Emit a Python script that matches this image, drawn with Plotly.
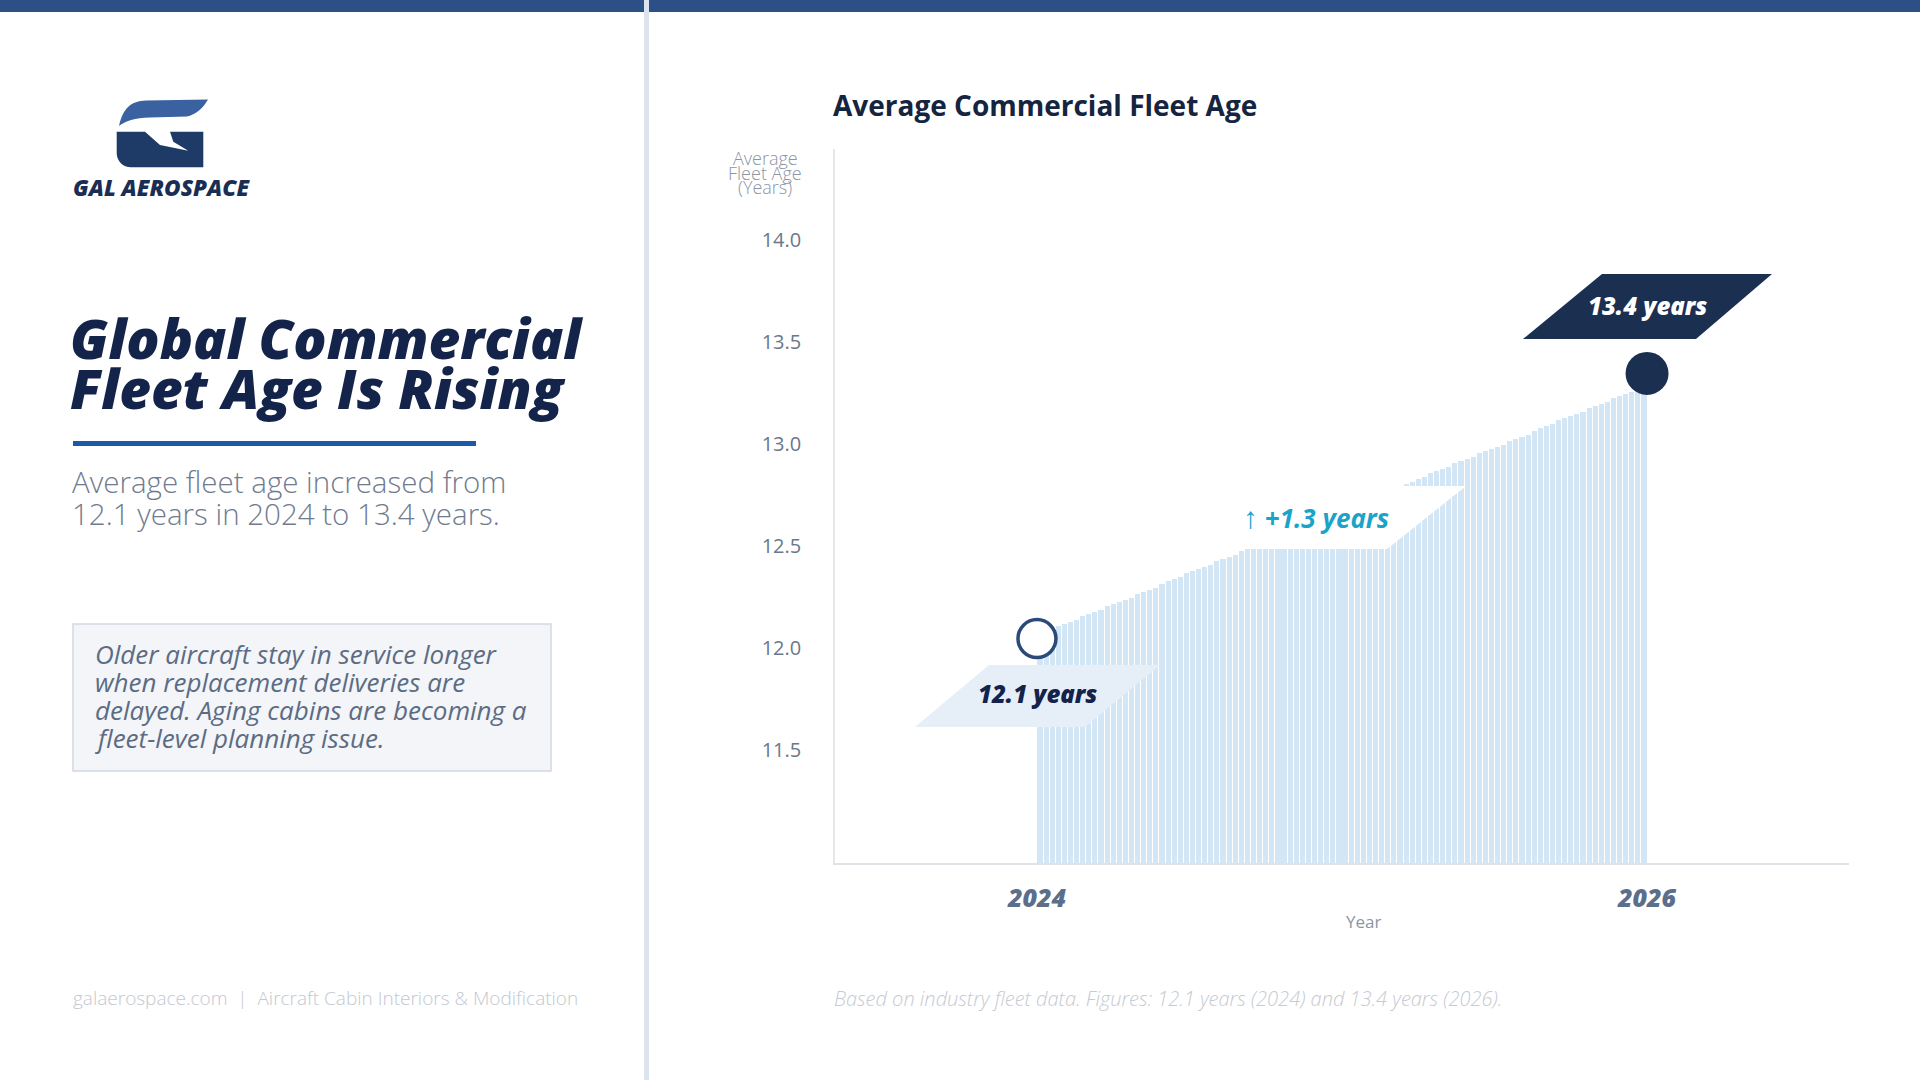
import plotly.graph_objects as go

W, H = 1920, 1080
FONT = "'Open Sans', Roboto, sans-serif"

# ---------------- data ----------------
years = [2024, 2026]
fleet_age = [12.1, 13.4]
point_labels = ["12.1 years", "13.4 years"]
change_label = "+1.3 years"
ytick_vals = [11.5, 12.0, 12.5, 13.0, 13.5, 14.0]
ytick_text = ["11.5", "12.0", "12.5", "13.0", "13.5", "14.0"]
xtick_text = ["2024", "2026"]
# thin background bars between 2024 and 2026
ramp_values = [
    12.12, 12.13, 12.14, 12.16, 12.17, 12.18, 12.19, 12.21, 12.22, 12.23,
    12.24, 12.26, 12.27, 12.28, 12.29, 12.30, 12.32, 12.33, 12.34, 12.35,
    12.37, 12.38, 12.39, 12.40, 12.42, 12.43, 12.44, 12.45, 12.46, 12.48,
    12.49, 12.50, 12.51, 12.53, 12.54, 12.55, 12.56, 12.58, 12.59, 12.60,
    12.61, 12.62, 12.64, 12.65, 12.66, 12.67, 12.69, 12.70, 12.71, 12.72,
    12.74, 12.75, 12.76, 12.77, 12.78, 12.80, 12.81, 12.82, 12.83, 12.85,
    12.86, 12.87, 12.88, 12.89, 12.91, 12.92, 12.93, 12.94, 12.96, 12.97,
    12.98, 12.99, 13.01, 13.02, 13.03, 13.04, 13.05, 13.07, 13.08, 13.09,
    13.10, 13.12, 13.13, 13.14, 13.15, 13.17, 13.18, 13.19, 13.20, 13.21,
    13.23, 13.24, 13.25, 13.26, 13.28, 13.29, 13.30, 13.31, 13.33, 13.35,
]

n = len(ramp_values)
step = (years[1] - years[0]) / n
ramp_x = [years[0] + step * (i + 0.5) for i in range(n)]


def P(x, y):
    return f"{x / W:.5f},{1 - y / H:.5f}"


def poly(points):
    return "M " + " L ".join(P(x, y) for x, y in points) + " Z"


fig = go.Figure()

fig.add_trace(go.Bar(
    x=ramp_x, y=ramp_values, width=step * 0.84,
    marker=dict(color="#d3e6f6", line=dict(width=0)),
    hoverinfo="skip", showlegend=False,
))

fig.add_trace(go.Scatter(
    x=[years[0]], y=[fleet_age[0]], mode="markers",
    marker=dict(size=38, color="white", line=dict(color="#2b4a78", width=3.5)),
    showlegend=False, hoverinfo="skip",
))
fig.add_trace(go.Scatter(
    x=[years[1]], y=[fleet_age[1]], mode="markers",
    marker=dict(size=43, color="#1b2f50", line=dict(width=0)),
    showlegend=False, hoverinfo="skip",
))

shapes = []
# top bar
shapes.append(dict(type="rect", xref="paper", yref="paper", x0=0, x1=1,
                   y0=1 - 12 / H, y1=1, fillcolor="#2c4f85", line=dict(width=0), layer="below"))
# divider
shapes.append(dict(type="rect", xref="paper", yref="paper", x0=644 / W, x1=649 / W,
                   y0=0, y1=1, fillcolor="#dde3ee", line=dict(width=0), layer="above"))
# logo swoosh
shapes.append(dict(type="path", xref="paper", yref="paper", layer="above",
                   path=("M " + P(119, 126) + " C " + P(123, 108) + " " + P(131, 101) + " " + P(146, 100.5)
                         + " L " + P(208, 99.5) + " C " + P(203, 108) + " " + P(197, 114) + " " + P(187, 116.5)
                         + " L " + P(150, 117.5) + " C " + P(135, 118) + " " + P(125, 121) + " " + P(119, 126) + " Z"),
                   fillcolor="#3a62a0", line=dict(width=0)))
# logo body
shapes.append(dict(type="path", xref="paper", yref="paper", layer="above",
                   path=("M " + P(116.7, 131.7) + " L " + P(145, 131.7) + " L " + P(160, 145)
                         + " L " + P(188.3, 150.7) + " L " + P(173.3, 141.7) + " L " + P(170, 131.7)
                         + " L " + P(203.3, 131.7) + " L " + P(203.3, 167.3) + " L " + P(131, 167.3)
                         + " C " + P(123, 167.3) + " " + P(116.7, 161) + " " + P(116.7, 153) + " Z"),
                   fillcolor="#1e3a66", line=dict(width=0)))
# title underline
shapes.append(dict(type="rect", xref="paper", yref="paper", x0=73 / W, x1=476 / W,
                   y0=1 - 446 / H, y1=1 - 441 / H, fillcolor="#1b5aa8", line=dict(width=0)))
# callout box
shapes.append(dict(type="rect", xref="paper", yref="paper", x0=73 / W, x1=551 / W,
                   y0=1 - 771 / H, y1=1 - 624 / H, fillcolor="#f3f5f9",
                   line=dict(color="#d3d8e1", width=1.5), layer="below"))
# label boxes
shapes.append(dict(type="path", xref="paper", yref="paper", layer="above",
                   path=poly([(915, 727), (989, 665), (1160, 665), (1085, 727)]),
                   fillcolor="#e6eef8", line=dict(width=0)))
shapes.append(dict(type="path", xref="paper", yref="paper", layer="above",
                   path=poly([(1170, 549), (1249, 486), (1466, 486), (1387, 549)]),
                   fillcolor="#ffffff", line=dict(width=0)))
shapes.append(dict(type="path", xref="paper", yref="paper", layer="above",
                   path=poly([(1523, 339), (1602, 274), (1772, 274), (1696, 339)]),
                   fillcolor="#1b2f50", line=dict(width=0)))

ann = []


def A(text, x, y, size, color, xanchor="left", weight="normal", style="normal", yanchor="middle"):
    ann.append(dict(text=text, x=x / W, y=1 - y / H, xref="paper", yref="paper",
                    xanchor=xanchor, yanchor=yanchor, showarrow=False,
                    font=dict(family=FONT, size=size, color=color, weight=weight, style=style)))


A("GAL AEROSPACE", 71, 188, 22.5, "#1a2e55", weight=800, style="italic")
A("Global Commercial", 68, 337, 55, "#13234a", weight=800, style="italic")
A("Fleet Age Is Rising", 68, 387, 55, "#13234a", weight=800, style="italic")
A("Average fleet age increased from", 70, 481, 29.5, "#707b8e", weight=300)
A("12.1 years in 2024 to 13.4 years.", 70, 513, 29.5, "#707b8e", weight=300)
callout = ["Older aircraft stay in service longer",
           "when replacement deliveries are",
           "delayed. Aging cabins are becoming a",
           "fleet-level planning issue."]
for i, line in enumerate(callout):
    A(line, 93, 654 + 28 * i, 26, "#5c6c83", style="italic")
A("galaerospace.com  |  Aircraft Cabin Interiors &amp; Modification", 71, 998, 19, "#c3c8d1", weight=300)
A("Based on industry fleet data. Figures: 12.1 years (2024) and 13.4 years (2026).",
  832, 998, 20, "#c6cad2", style="italic", weight=300)

A("Average Commercial Fleet Age", 831, 105, 28, "#15243f", weight="bold")
A("Average", 765, 158, 18, "#8c95a5", xanchor="center", weight=300)
A("Fleet Age", 765, 172.5, 18, "#8c95a5", xanchor="center", weight=300)
A("(Years)", 765, 187, 18, "#8c95a5", xanchor="center", weight=300)
A("Year", 1363, 921, 17, "#8c95a5", xanchor="center")

A(point_labels[0], 1037, 693, 24, "#13234a", xanchor="center", weight=800, style="italic")
A(point_labels[1], 1647, 305, 24, "#ffffff", xanchor="center", weight=800, style="italic")
A("<span style='font-size:30px'>↑</span> <b><i>" + change_label + "</i></b>", 1316, 517, 26,
  "#1ba3c9", xanchor="center")

fig.update_layout(
    width=W, height=H, margin=dict(l=0, r=0, t=0, b=0),
    paper_bgcolor="white", plot_bgcolor="white",
    bargap=0, showlegend=False,
    shapes=shapes, annotations=ann,
    font=dict(family=FONT),
    xaxis=dict(domain=[835 / W, 1849 / W], range=[2023.338, 2026.662],
               tickvals=years, ticktext=xtick_text,
               tickfont=dict(family=FONT, size=25, color="#5b6e8a", weight=800, style="italic"),
               ticks="outside", ticklen=12, tickcolor="rgba(0,0,0,0)",
               showgrid=False, zeroline=False,
               showline=True, linecolor="#dfe3e8", linewidth=2),
    yaxis=dict(domain=[1 - 863 / H, 1 - 149 / H], range=[11.0, 14.5],
               tickvals=ytick_vals, ticktext=ytick_text,
               tickfont=dict(family=FONT, size=20, color="#6b778a"),
               ticks="outside", ticklen=28, tickcolor="rgba(0,0,0,0)",
               ticklabelshift=-11,
               showgrid=False, zeroline=False,
               showline=True, linecolor="#e4e7eb", linewidth=1.5),
)

fig.write_html("out.html")
